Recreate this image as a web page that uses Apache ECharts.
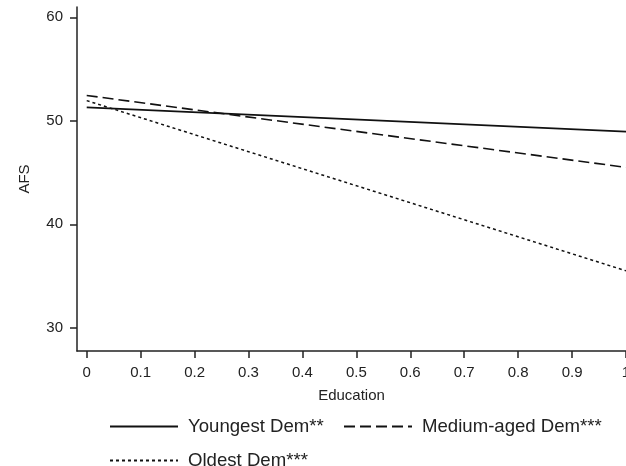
<!DOCTYPE html>
<html>
<head>
<meta charset="utf-8">
<script src="https://cdn.jsdelivr.net/npm/echarts@6/dist/echarts.min.js"></script>
<style>html,body{margin:0;padding:0;background:#fff;}#c{width:626px;height:466px;}</style>
</head>
<body>
<div id="c"></div>
<script>
const xValues = [0, 1];
const youngest = [51.3, 48.95];
const medium = [52.45, 45.5];
const oldest = [51.95, 35.5];
const xTicks = [0, 0.1, 0.2, 0.3, 0.4, 0.5, 0.6, 0.7, 0.8, 0.9, 1];
const yTicks = [30, 40, 50, 60];
const names = ['Youngest Dem**', 'Medium-aged Dem***', 'Oldest Dem***'];

const font = 'Liberation Sans, Arial, sans-serif';
const ink = '#222';
const toPairs = (ys) => xValues.map((x, i) => [x, ys[i]]);
const legendBase = {
  orient: 'horizontal', itemWidth: 68, itemHeight: 14, padding: 0,
  itemStyle: { opacity: 0 },
  textStyle: { fontFamily: font, fontSize: 18.6, color: ink, padding: [0, 0, 0, 5] },
  selectedMode: false
};
const chart = echarts.init(document.getElementById('c'), null, { renderer: 'canvas' });
chart.setOption({
  animation: false,
  backgroundColor: '#fff',
  grid: { left: 77, top: 7, right: 0, bottom: 115, containLabel: false, outerBoundsMode: 'none' },
  xAxis: {
    type: 'value', min: -0.018, max: 1,
    name: 'Education', nameLocation: 'middle', nameGap: 37,
    nameTextStyle: { fontFamily: font, fontSize: 15, color: ink },
    axisLine: { show: true, onZero: false, lineStyle: { color: ink, width: 1.5 } },
    axisTick: { show: true, length: 7, customValues: xTicks, lineStyle: { color: ink, width: 1.5 } },
    axisLabel: { customValues: xTicks, margin: 14, fontFamily: font, fontSize: 15, color: ink,
      hideOverlap: false, formatter: v => String(Math.round(v * 10) / 10) },
    splitLine: { show: false }
  },
  yAxis: {
    type: 'value', min: 27.75, max: 61,
    name: 'AFS', nameLocation: 'middle', nameGap: 45,
    nameTextStyle: { fontFamily: font, fontSize: 15, color: ink },
    axisLine: { show: true, onZero: false, lineStyle: { color: ink, width: 1.5 } },
    axisTick: { show: true, length: 7, customValues: yTicks, lineStyle: { color: ink, width: 1.5 } },
    axisLabel: { customValues: yTicks, margin: 14, fontFamily: font, fontSize: 15, color: ink },
    splitLine: { show: false }
  },
  legend: [
    Object.assign({}, legendBase, { left: 109, top: 417, data: [names[0]] }),
    Object.assign({}, legendBase, { left: 343, top: 417, data: [names[1]] }),
    Object.assign({}, legendBase, { left: 109, top: 451, data: [names[2]] })
  ],
  series: [
    { name: names[0], type: 'line', data: toPairs(youngest), symbol: 'none',
      lineStyle: { color: '#111', width: 1.6, type: 'solid' }, itemStyle: { color: '#111' } },
    { name: names[1], type: 'line', data: toPairs(medium), symbol: 'none',
      lineStyle: { color: '#111', width: 1.6, type: [11, 5] }, itemStyle: { color: '#111' } },
    { name: names[2], type: 'line', data: toPairs(oldest), symbol: 'none',
      lineStyle: { color: '#111', width: 1.5, type: [3, 3] }, itemStyle: { color: '#111' } }
  ]
});
</script>
</body>
</html>
